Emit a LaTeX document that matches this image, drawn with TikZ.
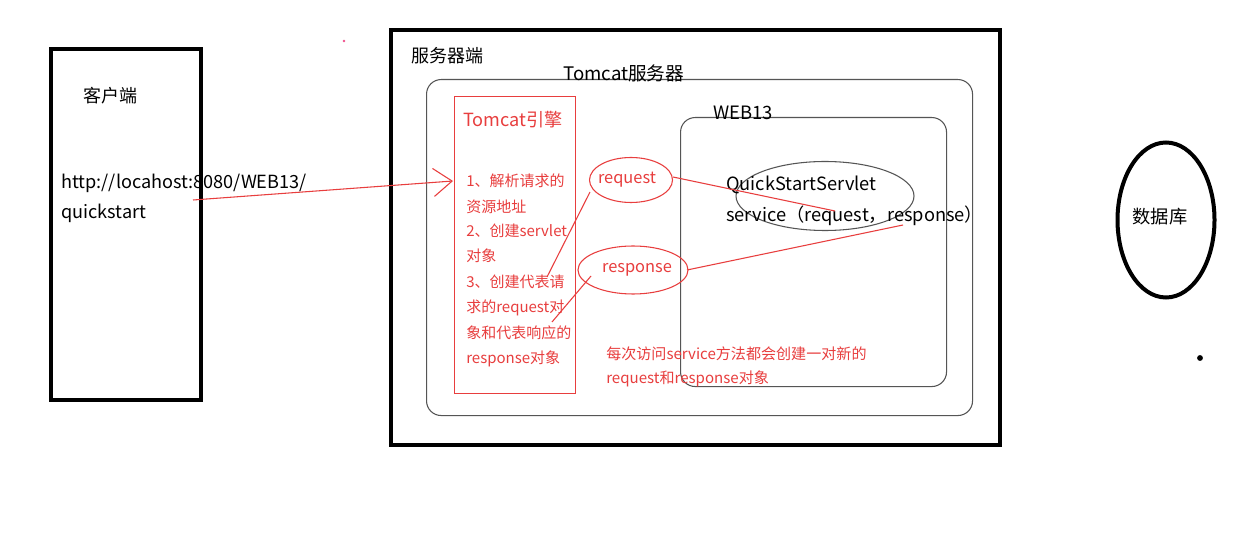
\documentclass[tikz,border=0pt]{standalone}
\usepackage{fontspec}
\setmainfont{Noto Sans CJK SC}
\usetikzlibrary{shapes.geometric,arrows.meta}
\definecolor{rd}{RGB}{232,62,62}
\definecolor{bx}{RGB}{85,85,85}
\definecolor{pk}{RGB}{240,80,140}
\begin{document}
\begin{tikzpicture}[x=0.75pt,y=-0.75pt,
 thickbox/.style={draw=black,line width=3pt,inner sep=0pt,anchor=north west},
 thinbox/.style={draw=bx,line width=0.8pt,rounded corners=11pt,inner sep=0pt,anchor=north west},
 redbox/.style={draw=rd,line width=0.8pt,inner sep=0pt,anchor=north west},
 redell/.style={ellipse,draw=rd,line width=0.8pt,inner sep=0pt,text=rd,font=\fontsize{12.3pt}{14pt}\selectfont},
 blk/.style={font=\fontsize{13.6pt}{16pt}\selectfont,inner sep=0pt,anchor=west},
 redtxt/.style={font=\fontsize{11.25pt}{13pt}\selectfont,inner sep=0pt,anchor=west,text=rd},
 redline/.style={draw=rd,line width=0.8pt}]
\useasboundingbox (0,0) rectangle (1255,559);
\fill[white] (0,0) rectangle (1255,559);
% boxes
\node (client) [thickbox,minimum width=112.5pt,minimum height=263.25pt] at (49,47) {};
\node (server) [thickbox,minimum width=456.75pt,minimum height=311.25pt] at (389,28) {};
\node (tomcat) [thinbox,minimum width=409.5pt,minimum height=252pt] at (426,79) {};
\node (engine) [redbox,minimum width=90.75pt,minimum height=222.75pt] at (454,96) {};
\node (web) [thinbox,minimum width=199.5pt,minimum height=201.75pt] at (680,117) {};
\node (qs) [ellipse,draw=bx,line width=0.8pt,inner sep=0pt,minimum width=133.5pt,minimum height=51.75pt] at (825,196) {};
\node (req) [redell,minimum width=62.25pt,minimum height=33.75pt] at (631,180) {\hspace*{-6pt}request};
\node (resp) [redell,minimum width=68.25pt,minimum height=36pt] at (633,270) {\hspace*{6pt}response};
\node (db) [ellipse,draw=black,line width=3pt,inner sep=0pt,minimum width=72.75pt,minimum height=116.25pt] at (1166,220) {};
% labels
\node (tclient) [blk,font=\fontsize{13.5pt}{16pt}\selectfont] at (83,96) {客户端};
\node (url1) [blk] at (61,183) {http://locahost:8080/WEB13/};
\node (url2) [blk] at (61,213) {quickstart};
\node (tserver) [blk,font=\fontsize{13.5pt}{16pt}\selectfont] at (411,56) {服务器端};
\node (ttomcat) [blk,font=\fontsize{14pt}{16pt}\selectfont] at (563,73) {Tomcat服务器};
\node (tengine) [redtxt,font=\fontsize{13.6pt}{16pt}\selectfont] at (463,120) {Tomcat引擎};
\node (e1) [redtxt] at (466,181) {1、解析请求的};
\node (e2) [redtxt] at (466,207) {资源地址};
\node (e3) [redtxt] at (466,231) {2、创建servlet};
\node (e4) [redtxt] at (466,256) {对象};
\node (e5) [redtxt] at (466,282) {3、创建代表请};
\node (e6) [redtxt] at (466,308) {求的request对};
\node (e7) [redtxt] at (466,333) {象和代表响应的};
\node (e8) [redtxt] at (466,359) {response对象};
\node (tweb) [blk,font=\fontsize{13.8pt}{16pt}\selectfont] at (713,113) {WEB13};
\node (qs1) [blk,font=\fontsize{13.7pt}{16pt}\selectfont] at (726,185) {QuickStartServlet};
\node (qs2) [blk,font=\fontsize{13.7pt}{16pt}\selectfont] at (726,216) {service（request，response）};
\node (note1) [redtxt,font=\fontsize{11.3pt}{13pt}\selectfont] at (606,354) {每次访问service方法都会创建一对新的};
\node (note2) [redtxt,font=\fontsize{11.3pt}{13pt}\selectfont] at (606,379) {request和response对象};
\node (tdb) [blk,font=\fontsize{13.7pt}{16pt}\selectfont,anchor=center] at (1160,217) {数据库};
% connectors
\coordinate (a0) at (193,200);
\coordinate (a1) at (453,181);
\draw[redline,-{Straight Barb[length=14pt,width=21pt,line width=0.8pt]}] (a0) -- (a1);
\coordinate (q1) at (547,277);
\coordinate (q2) at (590,192);
\draw[redline] (q1) -- (q2);
\coordinate (r1) at (552,322);
\coordinate (r2) at (591,276);
\draw[redline] (r1) -- (r2);
\coordinate (s1) at (673,177);
\coordinate (s2) at (835,211);
\draw[redline] (s1) -- (s2);
\coordinate (t1) at (687,270);
\coordinate (t2) at (903,225);
\draw[redline] (t1) -- (t2);
% dots
\fill[black] (1200,358) circle (2.2pt);
\fill[pk] (344,41) circle (1.1pt);
\end{tikzpicture}
\end{document}
